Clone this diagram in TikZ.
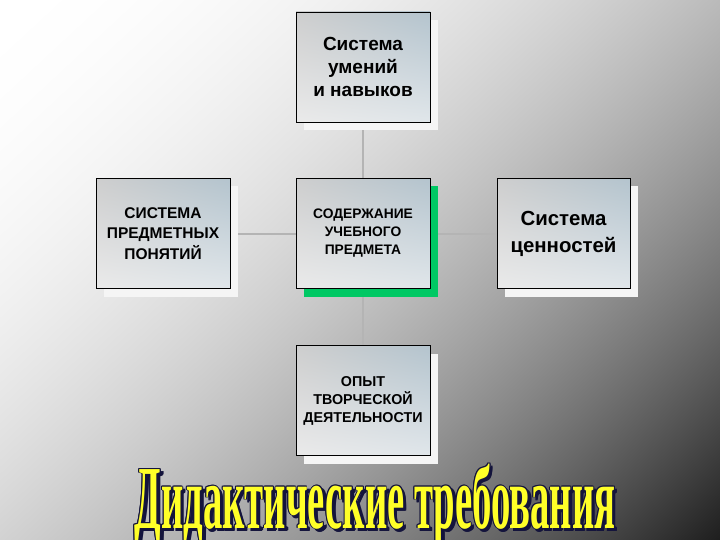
\documentclass[tikz,border=0pt]{standalone}
\usepackage{fontspec}
\setmainfont{Liberation Sans}
\newfontfamily\titlefont{Liberation Serif}
\usetikzlibrary{shadows,shadings,calc}
\definecolor{shgreen}{RGB}{0,200,100}
\definecolor{titleyellow}{RGB}{255,255,40}
\definecolor{linegray}{RGB}{180,180,180}
\definecolor{boxul}{RGB}{206,206,206}
\definecolor{boxur}{RGB}{180,196,206}
\definecolor{boxll}{RGB}{234,234,234}
\definecolor{boxlr}{RGB}{224,230,234}
\definecolor{shwhite}{RGB}{245,245,245}
\definecolor{titledark}{RGB}{20,20,60}
\pgfdeclarefunctionalshading{bgshade}{\pgfpoint{-50bp}{-50bp}}{\pgfpoint{50bp}{50bp}}{}{
  25 exch sub 0.0084 mul exch 25 add 0.0104 mul add dup mul 1 exch sub dup dup
}
\tikzset{
  box/.style={draw=black, line width=0.7pt, minimum width=134pt, minimum height=110pt,
    align=center, inner sep=2pt,
    upper left=boxul, upper right=boxur, lower left=boxll, lower right=boxlr},
  whiteshadow/.style={general shadow={shadow xshift=8pt, shadow yshift=-8pt, fill=shwhite}},
  greenshadow/.style={general shadow={shadow xshift=8pt, shadow yshift=-8pt, fill=shgreen}},
  link/.style={draw=linegray, line width=2pt},
  titletext/.style={font=\titlefont\bfseries\fontsize{90}{90}\selectfont, inner sep=0pt, anchor=base}
}
\begin{document}
\begin{tikzpicture}[x=1pt,y=-1pt]
\useasboundingbox (0,0) rectangle (720,540);
\begin{scope}
\clip (0,0) rectangle (720,540);
\shade[shading=bgshade] (0,0) rectangle (720,540);

\coordinate (ctop) at (363,178.5);
\coordinate (cbot) at (363,288.5);
\coordinate (cleft) at (296,233.5);
\coordinate (cright) at (430,233.5);
\coordinate (ttop) at (363,122);
\coordinate (lright) at (230,233.5);
\coordinate (rleft) at (497,233.5);
\coordinate (btop) at (363,345.5);
\draw[link] (ttop) -- (ctop);
\draw[link] (lright) -- (cleft);
\draw[link] (cright) -- (rleft);
\draw[link] (cbot) -- (btop);

\node[box, whiteshadow, font=\bfseries\fontsize{19}{23}\selectfont] (top) at (363,67) {Система\\умений\\и навыков};
\node[box, whiteshadow, font=\bfseries\fontsize{15.5}{20.5}\selectfont] (left) at (163,233.5) {СИСТЕМА\\ПРЕДМЕТНЫХ\\ПОНЯТИЙ};
\node[box, greenshadow, font=\bfseries\fontsize{13.8}{18}\selectfont] (center) at (363,233.5) {СОДЕРЖАНИЕ\\УЧЕБНОГО\\ПРЕДМЕТА};
\node[box, whiteshadow, minimum width=133pt, font=\bfseries\fontsize{20.4}{27}\selectfont] (right) at (563.5,233.5) {Система\\ценностей};
\node[box, whiteshadow, font=\bfseries\fontsize{14.3}{18}\selectfont] (bottom) at (363,400.5) {ОПЫТ\\ТВОРЧЕСКОЙ\\ДЕЯТЕЛЬНОСТИ};

\foreach \dx/\dy in {3/3,2.5/3.5,3.5/2.5,-0.9/0,0.9/0,0/-0.9,0/0.9,-0.7/-0.7,0.7/0.7,0.7/-0.7,-0.7/0.7}{
  \node[titletext, text=titledark] at ($(375,528)+(\dx,\dy)$) {\scalebox{0.43}[1]{Дидактические требования}};
}
\node[titletext, text=titleyellow] (title) at (375,528) {\scalebox{0.43}[1]{Дидактические требования}};
\end{scope}
\end{tikzpicture}
\end{document}
